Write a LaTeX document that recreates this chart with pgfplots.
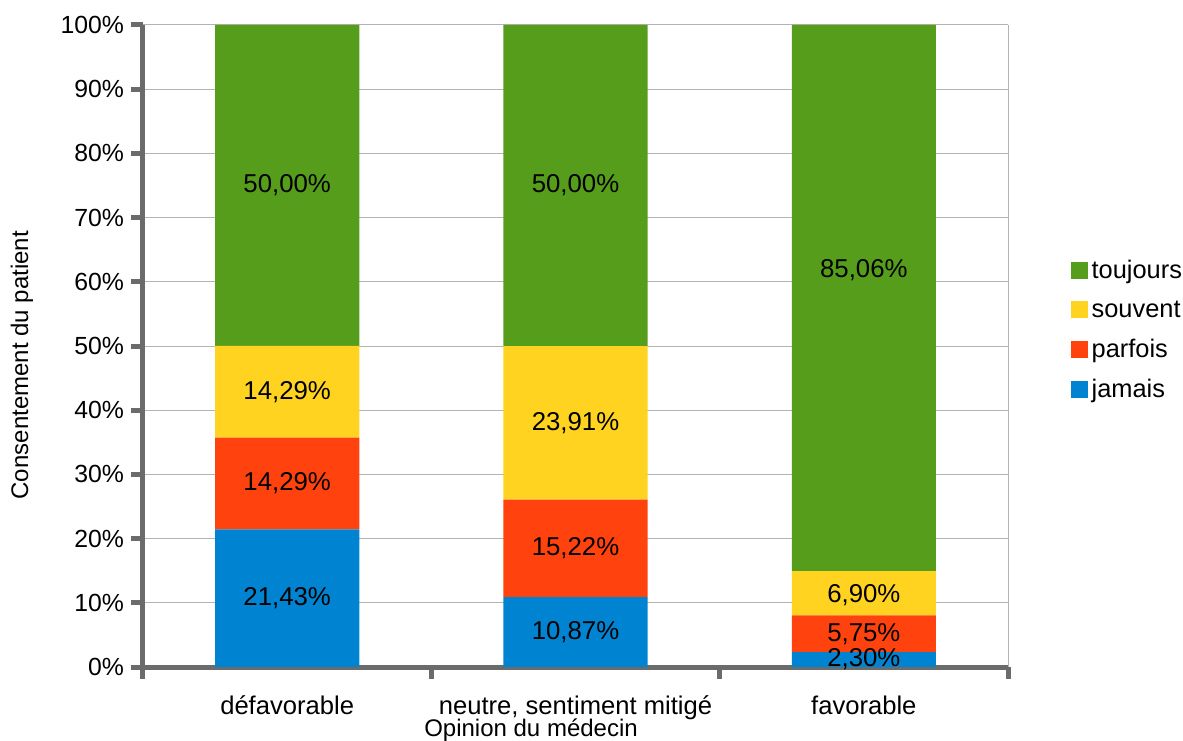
\documentclass[border=0pt]{standalone}
\usepackage{pgfplots}
\pgfplotsset{compat=1.18}
\usepackage{fontspec}
\setmainfont{Liberation Sans}
\definecolor{cgreen}{HTML}{579D1C}
\definecolor{cyellow}{HTML}{FFD320}
\definecolor{cred}{HTML}{FF420E}
\definecolor{cblue}{HTML}{0084D1}
\definecolor{gridgray}{HTML}{B3B3B3}
\definecolor{axisgray}{HTML}{6B6B6B}
\begin{document}
\begin{tikzpicture}
\path[use as bounding box] (-71.5pt,-36.5pt) rectangle (520pt,333.5pt);
\begin{axis}[
  at={(0,0)}, anchor=south west,
  scale only axis, width=432.5pt, height=321pt,
  ybar stacked, bar width=0.5,
  xmin=-0.5, xmax=2.5, ymin=0, ymax=100,
  clip=false,
  axis x line*=bottom, axis y line*=left,
  axis line style={line width=2.5pt, color=axisgray, -},
  tick align=outside,
  major tick length=6pt,
  every tick/.style={line width=2.5pt, color=axisgray},
  xtick={-0.5,0.5,1.5,2.5}, xticklabels={},
  extra x ticks={0,1,2},
  extra x tick labels={défavorable, {neutre, sentiment mitigé}, favorable},
  extra x tick style={major tick length=0pt, tick label style={yshift=-11pt, font=\fontsize{12.8}{15}\selectfont}},
  ytick={0,10,...,100},
  yticklabels={0\%,10\%,20\%,30\%,40\%,50\%,60\%,70\%,80\%,90\%,100\%},
  ymajorgrids, grid style={gridgray, line width=0.5pt},
  tick label style={font=\fontsize{12.4}{14}\selectfont, black},
  xlabel={Opinion du médecin},
  every axis x label/.style={at={(rel axis cs:0.4486,0)}, anchor=center, yshift=-31.5pt, font=\fontsize{12}{14}\selectfont},
  ylabel={Consentement du patient},
  every axis y label/.style={at={(rel axis cs:-0.1399,0.47)}, anchor=center, rotate=90, font=\fontsize{12}{14}\selectfont},
  sqleg/.style={legend image code/.code={\fill[##1] (0pt,-4pt) rectangle (8.5pt,4.5pt);}},
  reverse legend,
  legend cell align=left,
  legend style={at={(rel axis cs:1.065,0.524)}, anchor=west, draw=none, fill=none,
    font=\fontsize{12.7}{14}\selectfont, row sep=5.5pt},
]
\addplot[fill=cblue, draw=none, sqleg] coordinates {(0,21.43) (1,10.87) (2,2.30)};
\addlegendentry{jamais}
\addplot[fill=cred, draw=none, sqleg] coordinates {(0,14.29) (1,15.22) (2,5.75)};
\addlegendentry{parfois}
\addplot[fill=cyellow, draw=none, sqleg] coordinates {(0,14.29) (1,23.91) (2,6.90)};
\addlegendentry{souvent}
\addplot[fill=cgreen, draw=none, sqleg] coordinates {(0,50.00) (1,50.00) (2,85.06)};
\addlegendentry{toujours}
\draw[gridgray, line width=0.5pt] (rel axis cs:1,0) -- (rel axis cs:1,1);
\end{axis}
\begin{axis}[
  at={(0,0)}, anchor=south west,
  scale only axis, width=432.5pt, height=321pt,
  xmin=-0.5, xmax=2.5, ymin=0, ymax=100,
  hide axis, clip=false,
]
\addplot[draw=none, mark=none,
  point meta=explicit symbolic, nodes near coords,
  every node near coord/.style={anchor=center, font=\fontsize{12.9}{15}\selectfont, black}]
  coordinates {
  (0,10.715)[21,43\%] (0,28.575)[14,29\%] (0,42.865)[14,29\%] (0,75)[50,00\%]
  (1,5.435)[10,87\%] (1,18.48)[15,22\%] (1,38.045)[23,91\%] (1,75)[50,00\%]
  (2,1.15)[2,30\%] (2,5.175)[5,75\%] (2,11.2)[6,90\%] (2,61.8)[85,06\%]
  };
\end{axis}
\end{tikzpicture}
\end{document}
